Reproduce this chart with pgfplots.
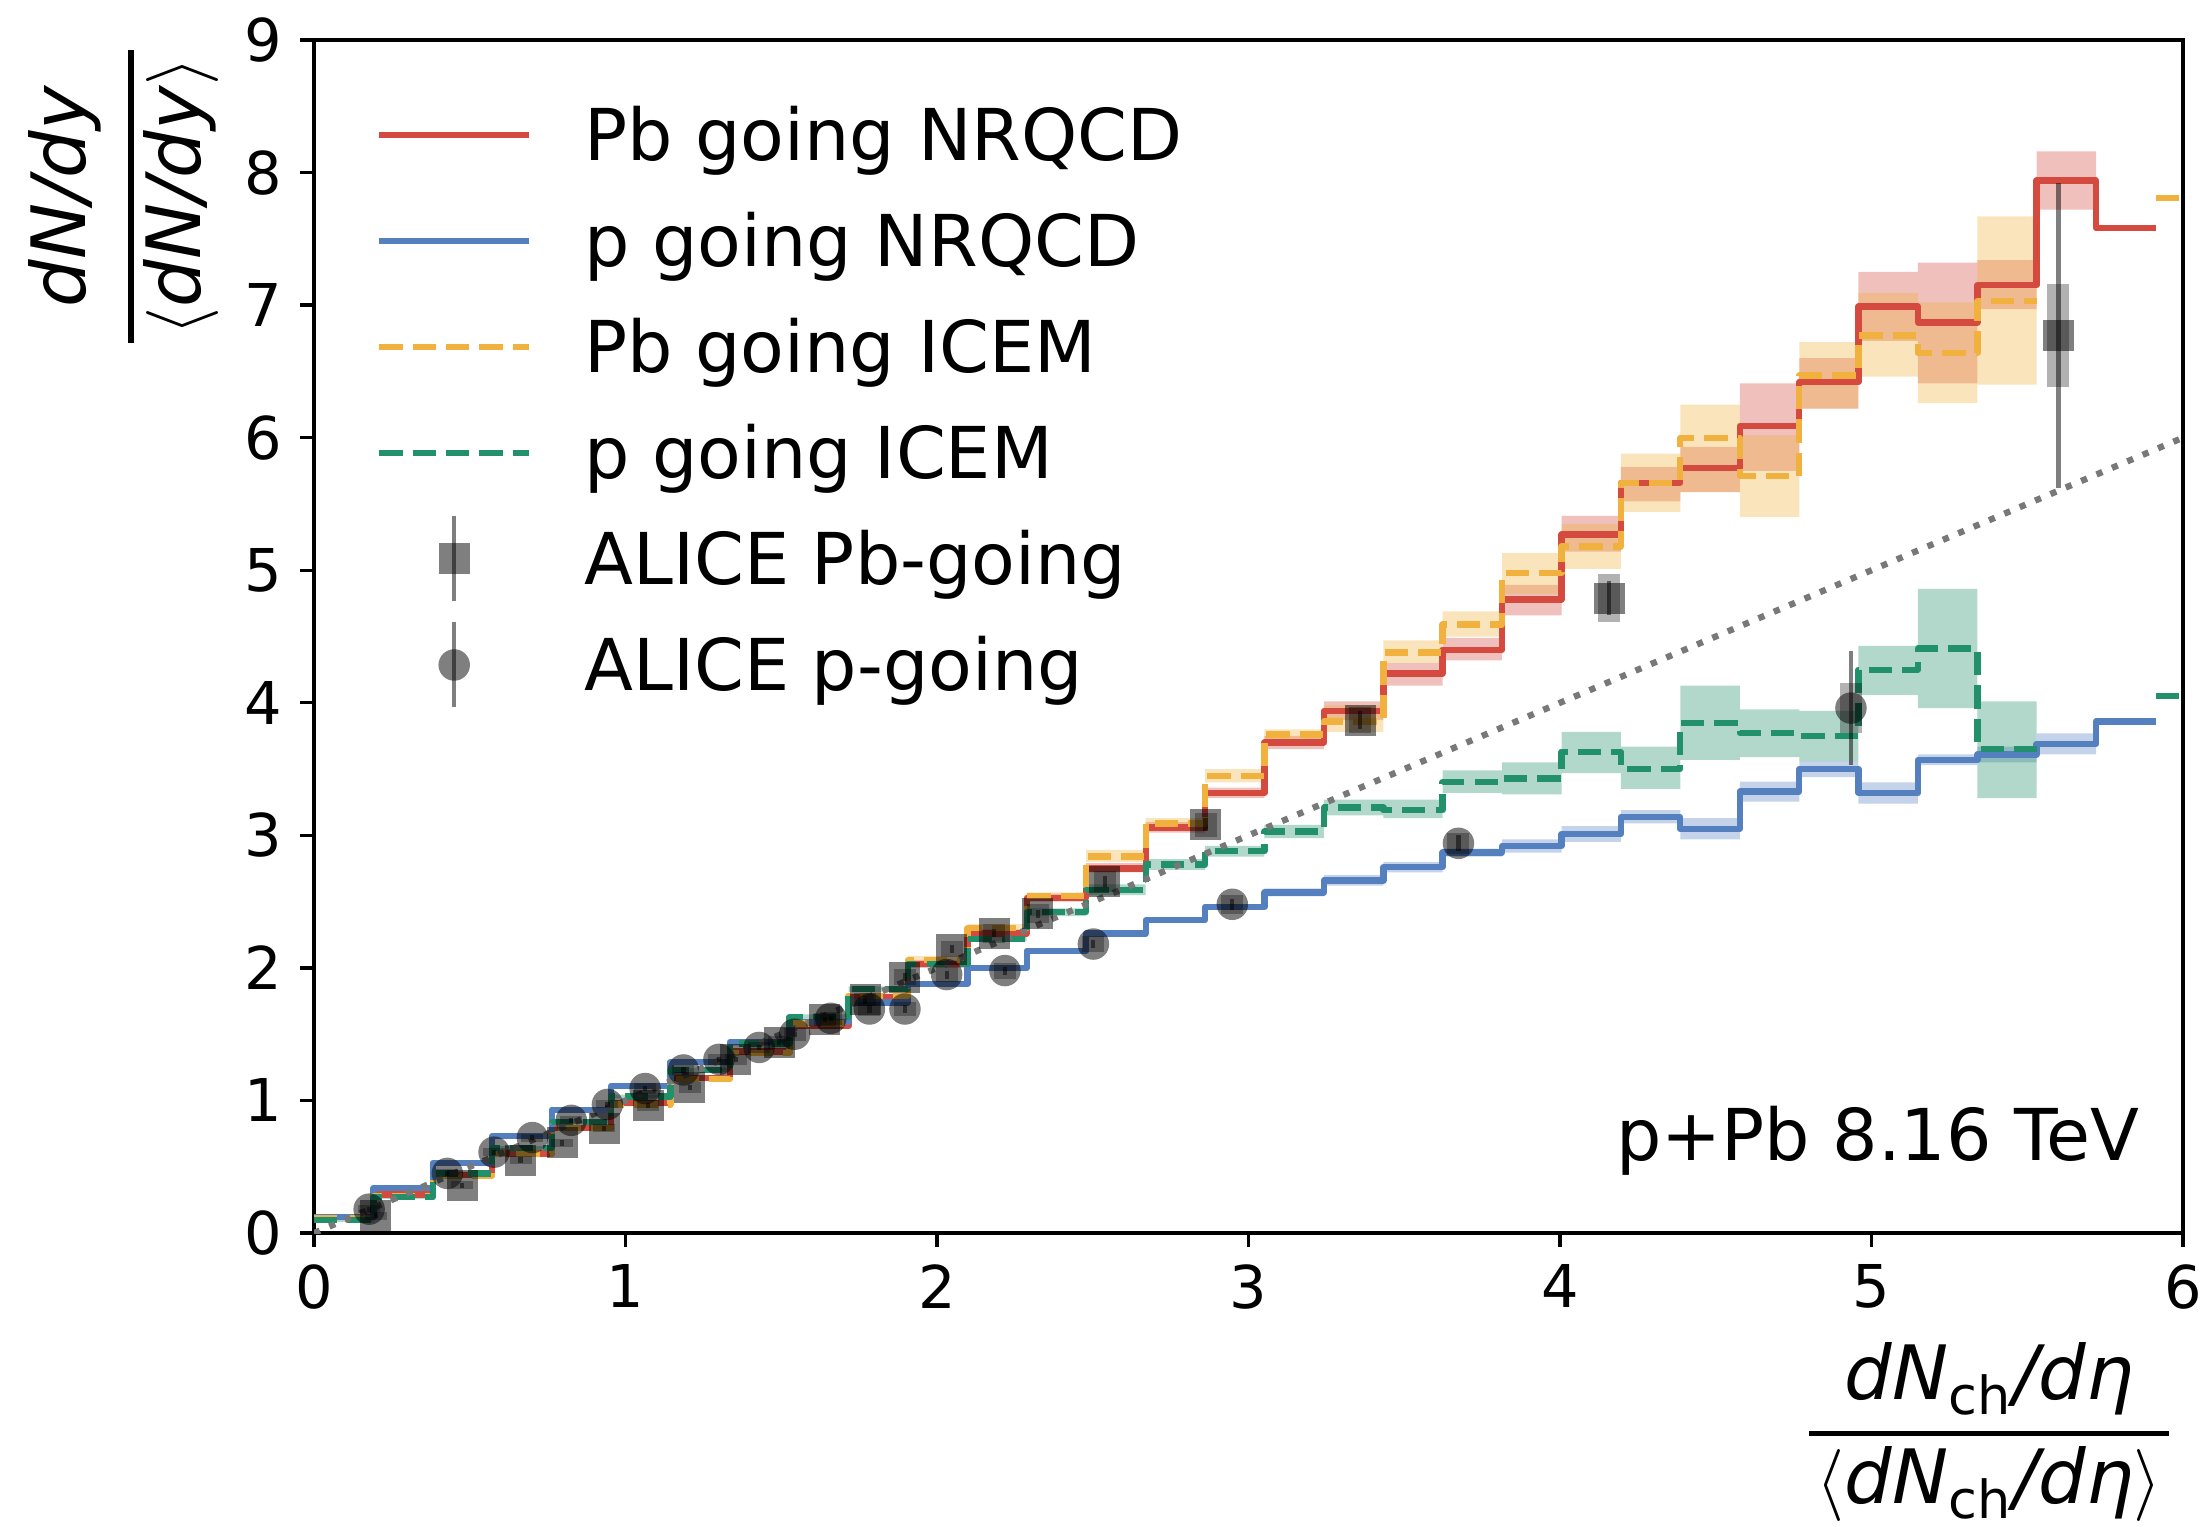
\documentclass[border=0pt]{standalone}
\usepackage{fontspec}
\setmainfont{DejaVu Sans}
\usepackage{pgfplots}
\usepackage{pgfplotstable}
\pgfplotsset{compat=1.18}
\usepgfplotslibrary{fillbetween}

\definecolor{cred}{HTML}{D44A3E}
\definecolor{cblue}{HTML}{5580BF}
\definecolor{corange}{HTML}{F0B13F}
\definecolor{cgreen}{HTML}{22906A}
\definecolor{cdot}{HTML}{787878}

% NRQCD, Pb going (bin left edge, value, band low, band high)
\pgfplotstableread{
x y lo hi
0.000 0.12 0.105 0.135
0.191 0.29 0.275 0.305
0.381 0.44 0.425 0.455
0.572 0.60 0.585 0.615
0.763 0.79 0.775 0.805
0.954 0.98 0.965 0.995
1.144 1.17 1.155 1.185
1.335 1.37 1.35 1.39
1.526 1.56 1.54 1.58
1.716 1.78 1.76 1.80
1.907 2.03 2.00 2.06
2.098 2.26 2.23 2.29
2.288 2.53 2.50 2.56
2.479 2.75 2.72 2.79
2.670 3.06 3.02 3.10
2.861 3.32 3.28 3.36
3.051 3.70 3.65 3.75
3.242 3.94 3.87 4.01
3.433 4.22 4.13 4.30
3.623 4.40 4.32 4.49
3.814 4.78 4.66 4.89
4.005 5.27 5.14 5.41
4.195 5.66 5.52 5.78
4.386 5.77 5.59 5.93
4.577 6.09 5.75 6.41
4.768 6.42 6.22 6.60
4.958 6.99 6.73 7.25
5.149 6.87 6.41 7.32
5.340 7.15 6.97 7.34
5.530 7.94 7.72 8.16
5.721 7.58 7.58 7.58
5.912 7.58 7.58 7.58
}\nrqcdPb

% NRQCD, p going
\pgfplotstableread{
x y lo hi
0.000 0.12 0.105 0.135
0.191 0.34 0.325 0.355
0.381 0.53 0.515 0.545
0.572 0.73 0.715 0.745
0.763 0.93 0.915 0.945
0.954 1.11 1.095 1.125
1.144 1.29 1.275 1.305
1.335 1.44 1.425 1.455
1.526 1.59 1.575 1.605
1.716 1.74 1.725 1.755
1.907 1.88 1.865 1.895
2.098 2.00 1.985 2.015
2.288 2.13 2.115 2.145
2.479 2.26 2.24 2.28
2.670 2.36 2.34 2.38
2.861 2.46 2.44 2.48
3.051 2.57 2.54 2.60
3.242 2.66 2.62 2.70
3.433 2.76 2.72 2.80
3.623 2.87 2.84 2.90
3.814 2.92 2.87 2.97
4.005 3.01 2.95 3.07
4.195 3.14 3.09 3.19
4.386 3.05 2.97 3.13
4.577 3.33 3.255 3.405
4.768 3.50 3.44 3.56
4.958 3.32 3.24 3.40
5.149 3.57 3.53 3.61
5.340 3.61 3.55 3.67
5.530 3.69 3.61 3.77
5.721 3.86 3.86 3.86
5.912 3.86 3.86 3.86
}\nrqcdp

% ICEM, Pb going
\pgfplotstableread{
x y lo hi
0.000 0.11 0.095 0.125
0.191 0.28 0.265 0.295
0.381 0.43 0.415 0.445
0.572 0.60 0.585 0.615
0.763 0.79 0.775 0.805
0.954 0.97 0.955 0.985
1.144 1.16 1.145 1.175
1.335 1.36 1.34 1.38
1.526 1.58 1.56 1.60
1.716 1.79 1.77 1.81
1.907 2.06 2.03 2.09
2.098 2.30 2.27 2.33
2.288 2.54 2.51 2.57
2.479 2.84 2.80 2.89
2.670 3.09 3.05 3.13
2.861 3.45 3.40 3.50
3.051 3.76 3.72 3.80
3.242 3.86 3.78 3.98
3.433 4.38 4.30 4.47
3.623 4.59 4.50 4.69
3.814 4.98 4.82 5.13
4.005 5.18 5.01 5.35
4.195 5.66 5.44 5.88
4.386 6.00 5.59 6.25
4.577 5.71 5.40 6.02
4.768 6.47 6.22 6.72
4.958 6.77 6.46 7.09
5.149 6.64 6.26 7.02
5.340 7.03 6.40 7.67
5.530 7.03 6.40 7.67
}\icemPb

% ICEM, p going
\pgfplotstableread{
x y lo hi
0.000 0.10 0.085 0.115
0.191 0.27 0.255 0.285
0.381 0.45 0.435 0.465
0.572 0.64 0.625 0.655
0.763 0.84 0.825 0.855
0.954 1.03 1.015 1.045
1.144 1.23 1.215 1.245
1.335 1.43 1.41 1.45
1.526 1.63 1.61 1.65
1.716 1.84 1.82 1.86
1.907 2.03 2.01 2.05
2.098 2.22 2.20 2.24
2.288 2.42 2.39 2.45
2.479 2.59 2.55 2.63
2.670 2.78 2.74 2.82
2.861 2.88 2.84 2.92
3.051 3.03 2.98 3.08
3.242 3.21 3.15 3.27
3.433 3.19 3.13 3.27
3.623 3.40 3.32 3.49
3.814 3.43 3.31 3.55
4.005 3.63 3.47 3.78
4.195 3.50 3.35 3.67
4.386 3.85 3.57 4.13
4.577 3.77 3.59 3.95
4.768 3.75 3.56 3.94
4.958 4.25 4.06 4.43
5.149 4.41 3.96 4.86
5.340 3.65 3.28 4.01
5.530 3.65 3.28 4.01
}\icemp

% ALICE Pb-going
\pgfplotstableread{
x y stat sys
0.198 0.13 0.02 0.03
0.476 0.36 0.02 0.03
0.663 0.55 0.02 0.03
0.797 0.68 0.02 0.03
0.931 0.79 0.02 0.03
1.073 0.96 0.02 0.04
1.207 1.10 0.02 0.04
1.354 1.31 0.02 0.04
1.493 1.44 0.02 0.05
1.640 1.61 0.02 0.05
1.769 1.76 0.03 0.05
1.897 1.93 0.03 0.06
2.047 2.14 0.03 0.06
2.183 2.26 0.03 0.07
2.323 2.41 0.03 0.07
2.539 2.65 0.04 0.08
2.862 3.08 0.05 0.09
3.358 3.87 0.07 0.10
4.158 4.79 0.13 0.18
5.600 6.77 1.15 0.39
}\alicePb

% ALICE p-going
\pgfplotstableread{
x y stat sys
0.177 0.18 0.02 0.03
0.428 0.45 0.02 0.03
0.578 0.61 0.02 0.03
0.701 0.72 0.02 0.03
0.826 0.85 0.02 0.03
0.942 0.97 0.02 0.03
1.063 1.09 0.02 0.04
1.186 1.23 0.02 0.04
1.300 1.31 0.02 0.04
1.429 1.40 0.02 0.04
1.543 1.50 0.02 0.05
1.659 1.62 0.02 0.05
1.783 1.69 0.03 0.05
1.897 1.69 0.03 0.05
2.031 1.95 0.03 0.06
2.218 1.98 0.03 0.06
2.502 2.18 0.03 0.06
2.948 2.48 0.04 0.07
3.674 2.94 0.06 0.08
4.934 3.96 0.43 0.19
}\alicep

\begin{document}
\begin{tikzpicture}
\begin{axis}[
    name=ax,
    width=373.8pt, height=238.6pt, scale only axis,
    xmin=0, xmax=6, ymin=0, ymax=9,
    xtick={0,1,2,3,4,5,6}, ytick={0,1,2,3,4,5,6,7,8,9},
    axis line style={line width=0.67pt},
    tick style={line width=0.67pt, black},
    major tick length=2.8pt,
    tick align=outside,
    tick pos=left,
    tick label style={font=\fontsize{11.8}{14}\selectfont},
    /pgf/number format/assume math mode=true,
    clip mode=individual,
    legend cell align=left,
    legend style={draw=none, fill=none, at={(0.0332,0.9443)}, anchor=north west,
        inner sep=0pt, outer sep=0pt, row sep=9.8pt,
        font=\fontsize{14.3}{17}\selectfont,
        nodes={inner sep=0pt, text height=10.9pt, text depth=0.5pt},
        /tikz/every odd column/.append style={column sep=10.4pt}},
]
% uncertainty bands
\addplot[name path=rlo, draw=none, const plot mark left, forget plot] table[x=x,y=lo]{\nrqcdPb};
\addplot[name path=rhi, draw=none, const plot mark left, forget plot] table[x=x,y=hi]{\nrqcdPb};
\addplot[fill=cred, fill opacity=0.35, draw=none, forget plot] fill between[of=rlo and rhi];
\addplot[name path=blo, draw=none, const plot mark left, forget plot] table[x=x,y=lo]{\nrqcdp};
\addplot[name path=bhi, draw=none, const plot mark left, forget plot] table[x=x,y=hi]{\nrqcdp};
\addplot[fill=cblue, fill opacity=0.35, draw=none, forget plot] fill between[of=blo and bhi];
\addplot[name path=olo, draw=none, const plot mark left, forget plot] table[x=x,y=lo]{\icemPb};
\addplot[name path=ohi, draw=none, const plot mark left, forget plot] table[x=x,y=hi]{\icemPb};
\addplot[fill=corange, fill opacity=0.35, draw=none, forget plot] fill between[of=olo and ohi];
\addplot[name path=glo, draw=none, const plot mark left, forget plot] table[x=x,y=lo]{\icemp};
\addplot[name path=ghi, draw=none, const plot mark left, forget plot] table[x=x,y=hi]{\icemp};
\addplot[fill=cgreen, fill opacity=0.35, draw=none, forget plot] fill between[of=glo and ghi];

% central values
\addplot[cred, line width=1.26pt, const plot mark left, line join=round, forget plot] table[x=x,y=y]{\nrqcdPb};
\addplot[cblue, line width=1.26pt, const plot mark left, line join=round, forget plot] table[x=x,y=y]{\nrqcdp};
\addplot[corange, line width=1.26pt, dash pattern=on 4.66pt off 2.02pt, const plot mark left, line join=round, forget plot] table[x=x,y=y]{\icemPb};
\addplot[corange, line width=1.26pt, dash pattern=on 4.66pt off 2.02pt, forget plot] coordinates {(5.912,7.81) (6.102,7.81)};
\addplot[cgreen, line width=1.26pt, dash pattern=on 4.66pt off 2.02pt, const plot mark left, line join=round, forget plot] table[x=x,y=y]{\icemp};
\addplot[cgreen, line width=1.26pt, dash pattern=on 4.66pt off 2.02pt, forget plot] coordinates {(5.912,4.05) (6.102,4.05)};

% y = x
\addplot[cdot, line width=1.26pt, dash pattern=on 1.26pt off 2.08pt, forget plot] coordinates {(0,0) (6,6)};

% ALICE data: systematic boxes, then points with stat. bars
\addplot[only marks, mark=*, mark options={opacity=0}, forget plot, error bars/.cd, y dir=both, y explicit, error mark=none,
    error bar style={line width=4.4pt, black, draw opacity=0.3}] table[x=x,y=y,y error=sys]{\alicePb};
\addplot[only marks, mark=*, mark options={opacity=0}, forget plot, error bars/.cd, y dir=both, y explicit, error mark=none,
    error bar style={line width=4.4pt, black, draw opacity=0.3}] table[x=x,y=y,y error=sys]{\alicep};
\addplot[only marks, mark=*, mark options={opacity=0}, forget plot, error bars/.cd, y dir=both, y explicit, error mark=none,
    error bar style={line width=0.84pt, black, draw opacity=0.5}] table[x=x,y=y,y error=stat]{\alicePb};
\addplot[only marks, mark=*, mark options={opacity=0}, forget plot, error bars/.cd, y dir=both, y explicit, error mark=none,
    error bar style={line width=0.84pt, black, draw opacity=0.5}] table[x=x,y=y,y error=stat]{\alicep};
\addplot[only marks, mark=square*, mark size=3.1pt, mark options={fill=black, fill opacity=0.5, draw opacity=0}, forget plot]
    table[x=x,y=y]{\alicePb};
\addplot[only marks, mark=*, mark size=3.15pt, mark options={fill=black, fill opacity=0.5, draw opacity=0}, forget plot]
    table[x=x,y=y]{\alicep};

% legend
\addlegendimage{legend image code/.code={\draw[cred, line width=1.26pt] (0pt,0pt) -- (30pt,0pt);}}
\addlegendentry{Pb going NRQCD}
\addlegendimage{legend image code/.code={\draw[cblue, line width=1.26pt] (0pt,0pt) -- (30pt,0pt);}}
\addlegendentry{p going NRQCD}
\addlegendimage{legend image code/.code={\draw[corange, line width=1.26pt, dash pattern=on 4.66pt off 2.02pt] (0pt,0pt) -- (30pt,0pt);}}
\addlegendentry{Pb going ICEM}
\addlegendimage{legend image code/.code={\draw[cgreen, line width=1.26pt, dash pattern=on 4.66pt off 2.02pt] (0pt,0pt) -- (30pt,0pt);}}
\addlegendentry{p going ICEM}
\addlegendimage{legend image code/.code={
    \path[overlay, draw=black, draw opacity=0.5, line width=0.84pt] (15pt,-8.5pt) -- (15pt,8.5pt);
    \path[draw=none, fill=black, fill opacity=0.5] (11.9pt,-3.1pt) rectangle (18.1pt,3.1pt);}}
\addlegendentry{ALICE Pb-going}
\addlegendimage{legend image code/.code={
    \path[overlay, draw=black, draw opacity=0.5, line width=0.84pt] (15pt,-8.5pt) -- (15pt,8.5pt);
    \path[draw=none, fill=black, fill opacity=0.5] (15pt,0pt) circle[radius=3.15pt];}}
\addlegendentry{ALICE p-going}

% annotations and axis labels
\node[anchor=base east, inner sep=0pt, font=\fontsize{14.3}{17}\selectfont]
    at ([xshift=-8.6pt, yshift=14.6pt]rel axis cs:1,0) {p+Pb 8.16 TeV};
\node[rotate=90, inner sep=0pt, font=\fontsize{15}{18}\selectfont]
    at ([xshift=-37.8pt, yshift=-31.3pt]rel axis cs:0,1)
    {\begin{tabular}{@{\hspace{1.5pt}}c@{\hspace{1.5pt}}}\textit{dN/dy}\\[3pt]\noalign{\hrule height 1.2pt\vskip 0.8pt}$\langle$\textit{dN/dy}$\rangle$\end{tabular}};
\node[anchor=east, inner sep=0pt, font=\fontsize{15}{18}\selectfont]
    at ([xshift=-2.6pt, yshift=-40pt]rel axis cs:1,0)
    {\begin{tabular}{@{\hspace{1.5pt}}c@{\hspace{1.5pt}}}\textit{dN}\textsubscript{ch}\textit{/dη}\\[1pt]\noalign{\hrule height 1pt\vskip 0.8pt}$\langle$\textit{dN}\textsubscript{ch}\textit{/dη}$\rangle$\end{tabular}};
\end{axis}
\pgfresetboundingbox
\path[use as bounding box] ([xshift=-62.8pt, yshift=-58.6pt]ax.south west) rectangle ([xshift=5.2pt, yshift=8pt]ax.north east);
\end{tikzpicture}
\end{document}
